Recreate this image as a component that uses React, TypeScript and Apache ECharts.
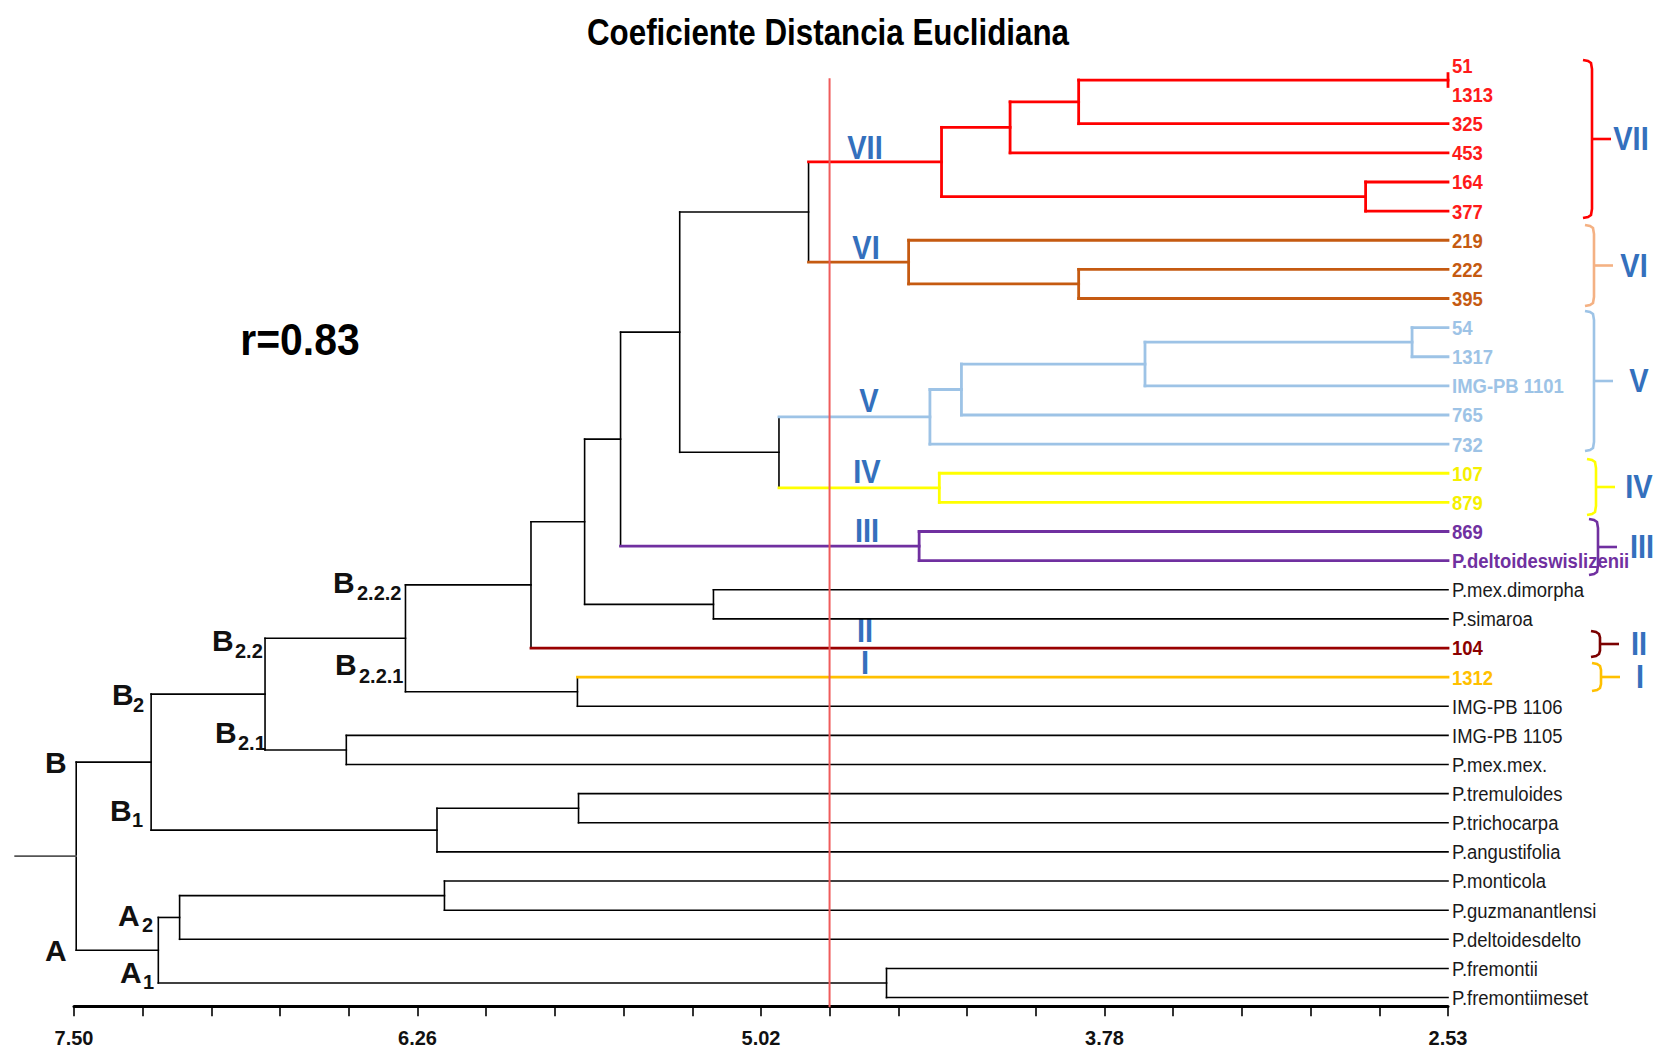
import React, { useEffect, useRef } from "react";
import * as echarts from "echarts";

const chartTitle = "Coeficiente Distancia Euclidiana";
const correlationText = "r=0.83";

const leafNames = [
  "51", "1313", "325", "453", "164", "377", "219", "222", "395", "54", "1317", "IMG-PB 1101",
  "765", "732", "107", "879", "869", "P.deltoideswislizenii", "P.mex.dimorpha", "P.simaroa",
  "104", "1312", "IMG-PB 1106", "IMG-PB 1105", "P.mex.mex.", "P.tremuloides", "P.trichocarpa",
  "P.angustifolia", "P.monticola", "P.guzmanantlensi", "P.deltoidesdelto", "P.fremontii",
  "P.fremontiimeset",
];
const leafGroups = [
  "VII", "VII", "VII", "VII", "VII", "VII", "VI", "VI", "VI", "V", "V", "V", "V", "V", "IV", "IV",
  "III", "III", "", "", "II", "I", "", "", "", "", "", "", "", "", "", "", "",
];
const leafHeight = 2.53;

// merge k creates node id 33 + k; children refer to leaf index (0..32) or node id
const mergeLeft = [0, 33, 34, 4, 35, 7, 6, 37, 9, 41, 42, 43, 14, 44, 40, 16, 47, 18, 49, 51, 21, 52, 23, 54, 25, 57, 56, 28, 60, 31, 61, 59];
const mergeRight = [1, 2, 3, 5, 36, 8, 38, 39, 10, 11, 12, 13, 15, 45, 46, 17, 48, 19, 50, 20, 22, 53, 24, 55, 26, 27, 58, 29, 30, 32, 62, 63];
const mergeHeights = [2.53, 3.866, 4.114, 2.828, 4.362, 3.866, 4.481, 4.843, 2.66, 3.626, 4.29, 4.404, 4.37, 4.95, 5.309, 4.443, 5.523, 5.187, 5.653, 5.847, 5.679, 6.301, 6.515, 6.809, 5.675, 6.187, 7.221, 6.16, 7.118, 4.561, 7.195, 7.492];
const mergeGroups = ["VII", "VII", "VII", "VII", "VII", "VI", "VI", "", "V", "V", "V", "V", "IV", "", "", "III", "", "", "", "", "", "", "", "", "", "", "", "", "", "", "", ""];

const rootStubEnd = 7.713;
const cutoffValue = 4.767;
const cutoffTop = 0.47;

const xMin = 2.53;
const xMax = 7.5;
const majorTickValues = [7.5, 6.2575, 5.015, 3.7725, 2.53];
const tickLabels = ["7.50", "6.26", "5.02", "3.78", "2.53"];
const allTickValues = [7.5, 7.2515, 7.003, 6.7545, 6.506, 6.2575, 6.009, 5.7605, 5.512, 5.2635, 5.015, 4.7665, 4.518, 4.2695, 4.021, 3.7725, 3.524, 3.2755, 3.027, 2.7785, 2.53];

const bracketGroups = ["VII", "VI", "V", "IV", "III", "II", "I"];

// ---------- styles ----------
const ARIAL = "'Liberation Sans', Arial, sans-serif";
const lineColors: Record<string, string> = {
  VII: "#ff0000", VI: "#c55a11", V: "#9dc3e6", IV: "#ffff00", III: "#7030a0", II: "#990000", I: "#ffc000", "": "#000000",
};
const labelColors: Record<string, string> = {
  VII: "#ff1a1a", VI: "#c55a11", V: "#9dc3e6", IV: "#f5f000", III: "#7030a0", II: "#8b0000", I: "#ffc000", "": "#1a1a1a",
};
const bracketColors: Record<string, string> = {
  VII: "#ff0000", VI: "#f4b183", V: "#9dc3e6", IV: "#ffff00", III: "#7030a0", II: "#7b0000", I: "#ffc000",
};
const ROMAN_BLUE = "#3470bd";

export default function App() {
  const ref = useRef<HTMLDivElement>(null);
  useEffect(() => {
    const chart = echarts.init(ref.current!, null, { renderer: "svg" });

    const nLeaf = leafNames.length;
    const nodeY: number[] = leafNames.map((_, i) => i);
    const nodeH: number[] = leafNames.map(() => leafHeight);
    const nodeG: string[] = leafGroups.slice();
    mergeLeft.forEach((l, k) => {
      const r = mergeRight[k];
      nodeY[nLeaf + k] = (nodeY[l] + nodeY[r]) / 2;
      nodeH[nLeaf + k] = mergeHeights[k];
      nodeG[nLeaf + k] = mergeGroups[k];
    });

    const segs: { v: number[]; color: string; w: number }[] = [];
    const widthOf = (g: string) => (g === "" ? 1.6 : 2.8);
    mergeLeft.forEach((l, k) => {
      const r = mergeRight[k];
      const h = mergeHeights[k];
      const g = mergeGroups[k];
      let y1 = nodeY[l];
      let y2 = nodeY[r];
      const zeroJoin = nodeH[l] === h && nodeH[r] === h;
      if (zeroJoin) {
        const m = (y1 + y2) / 2;
        y1 = m - 0.22;
        y2 = m + 0.22;
      }
      segs.push({ v: [h, y1, h, y2], color: lineColors[g], w: widthOf(g) });
      [l, r].forEach((c) => {
        if (nodeH[c] !== h) {
          segs.push({ v: [h, nodeY[c], nodeH[c], nodeY[c]], color: lineColors[nodeG[c]], w: widthOf(nodeG[c]) });
        }
      });
    });
    const rootId = nLeaf + mergeLeft.length - 1;
    segs.push({ v: [nodeH[rootId], nodeY[rootId], rootStubEnd, nodeY[rootId]], color: "#555555", w: 1.6 });
    segs.push({ v: [cutoffValue, cutoffTop, cutoffValue, 32.3], color: "#ef5b5b", w: 2 });

    const txt = (x: number, y: number, text: string, size: number, color: string, align = "center", weight = "bold", sx = 1) => ({
      type: "text",
      x,
      y,
      scaleX: sx,
      silent: true,
      style: {
        text, fill: color, fontSize: size, fontWeight: weight, fontFamily: ARIAL,
        textAlign: align, textVerticalAlign: "middle", align, verticalAlign: "middle",
      },
    });

    const graphics: any[] = [];
    graphics.push(txt(828, 32, chartTitle, 36, "#000", "center", "bold", 0.87));
    graphics.push(txt(300, 340, correlationText, 44, "#000", "center", "bold", 0.93));

    // node labels: [main, mainLeft, mainCy, sub, subLeft, subCy]
    const nodeLabels: [string, number, number, string, number, number][] = [
      ["B", 45, 762, "", 0, 0],
      ["A", 45, 950, "", 0, 0],
      ["B", 112, 694, "2", 133, 705],
      ["B", 110, 810, "1", 132, 820],
      ["B", 212, 640, "2.2", 235, 651],
      ["B", 215, 732, "2.1", 238, 743],
      ["B", 333, 582, "2.2.2", 357, 593],
      ["B", 335, 664, "2.2.1", 359, 676],
      ["A", 118, 915, "2", 142, 925],
      ["A", 120, 972, "1", 143, 982],
    ];
    nodeLabels.forEach(([m, mx, my, s, sx, sy]) => {
      graphics.push(txt(mx, my, m, 30, "#111", "left"));
      if (s) graphics.push(txt(sx, sy, s, 20, "#111", "left"));
    });

    // in-tree roman labels
    const inTree: [number, number][] = [[865, 148], [866, 248], [869, 401], [867, 472], [867, 531], [865, 631], [865, 663]];
    bracketGroups.forEach((g, i) => {
      graphics.push(txt(inTree[i][0], inTree[i][1], g, 33, ROMAN_BLUE, "center", "bold", 0.88));
    });

    // right brackets: [top, bottom, x, labelCx]
    const brackets: [number, number, number, number][] = [
      [60, 218, 1592, 1631],
      [225, 306, 1594, 1634],
      [311, 451, 1594, 1639],
      [459, 515, 1596, 1639],
      [519, 575, 1598, 1642],
      [631, 657, 1600, 1639],
      [663, 691, 1601, 1640],
    ];
    bracketGroups.forEach((g, i) => {
      const [t, b, x, lx] = brackets[i];
      const mid = (t + b) / 2;
      const c = bracketColors[g];
      const hk = Math.min(9, (b - t) / 4);
      graphics.push({
        type: "polyline",
        silent: true,
        shape: {
          points: [
            [x - 9, t], [x - 4, t + 1], [x - 1, t + 3], [x, t + hk],
            [x, b - hk], [x - 1, b - 3], [x - 4, b - 1], [x - 9, b],
          ],
        },
        style: { stroke: c, lineWidth: 2.6, fill: null },
      });
      graphics.push({
        type: "line",
        silent: true,
        shape: { x1: x, y1: mid, x2: x + 19, y2: mid },
        style: { stroke: c, lineWidth: 2.6 },
      });
      graphics.push(txt(lx, mid, g, 33, ROMAN_BLUE, "center", "bold", 0.88));
    });

    const option: any = {
      animation: false,
      backgroundColor: "#ffffff",
      grid: { left: 74, right: 207, top: 50.9, bottom: 48.7, containLabel: false },
      xAxis: {
        type: "value",
        min: xMin,
        max: xMax,
        inverse: true,
        position: "bottom",
        splitLine: { show: false },
        axisLine: { show: true, onZero: false, lineStyle: { color: "#000", width: 3 } },
        axisTick: { show: true, customValues: allTickValues, length: 10, lineStyle: { color: "#000", width: 1.6 } },
        axisLabel: {
          show: true,
          customValues: majorTickValues,
          margin: 22,
          fontFamily: ARIAL,
          fontWeight: "bold",
          fontSize: 20,
          color: "#111",
          formatter: (v: number) => {
            let best = 0;
            majorTickValues.forEach((m, i) => {
              if (Math.abs(m - v) < Math.abs(majorTickValues[best] - v)) best = i;
            });
            return tickLabels[best];
          },
        },
      },
      yAxis: { type: "value", min: -0.5, max: 32.3, inverse: true, show: false },
      series: [
        {
          type: "custom",
          coordinateSystem: "cartesian2d",
          data: segs.map((s) => s.v),
          encode: { x: [0, 2], y: [1, 3] },
          clip: false,
          silent: true,
          renderItem: (params: any, api: any) => {
            const s = segs[params.dataIndex];
            const p1 = api.coord([api.value(0), api.value(1)]);
            const p2 = api.coord([api.value(2), api.value(3)]);
            return {
              type: "line",
              shape: { x1: p1[0], y1: p1[1], x2: p2[0], y2: p2[1] },
              style: { stroke: s.color, lineWidth: s.w, lineCap: "square" },
            };
          },
        },
        {
          type: "custom",
          coordinateSystem: "cartesian2d",
          data: leafNames.map((_, i) => [leafHeight, i]),
          encode: { x: 0, y: 1 },
          clip: false,
          silent: true,
          renderItem: (params: any, api: any) => {
            const i = params.dataIndex;
            const p = api.coord([api.value(0), api.value(1)]);
            const g = leafGroups[i];
            return {
              type: "text",
              x: p[0] + 4,
              y: p[1],
              scaleX: 0.88,
              style: {
                text: leafNames[i],
                fill: labelColors[g],
                fontSize: 21,
                fontWeight: g === "" ? "normal" : "bold",
                fontFamily: ARIAL,
                textAlign: "left",
                textVerticalAlign: "middle",
                align: "left",
                verticalAlign: "middle",
              },
            };
          },
        },
      ],
      graphic: graphics,
    };

    chart.setOption(option);
    return () => chart.dispose();
  }, []);

  return (
    <div
      ref={ref}
      style={{ position: "fixed", left: 0, top: 0, width: 1655, height: 1055, background: "#fff" }}
    />
  );
}
